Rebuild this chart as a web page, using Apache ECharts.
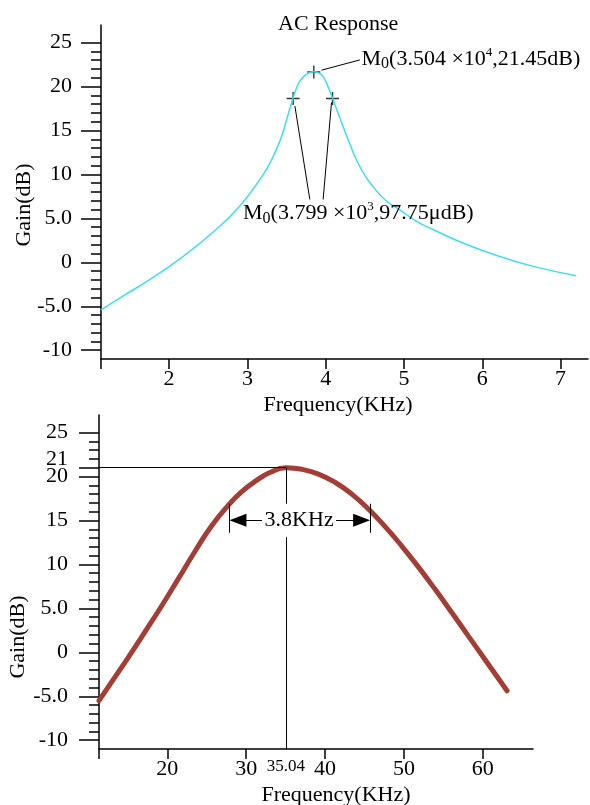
<!DOCTYPE html>
<html>
<head>
<meta charset="utf-8">
<script src="https://cdn.jsdelivr.net/npm/echarts@6/dist/echarts.min.js"></script>
<style>
html, body { margin: 0; padding: 0; background: #fff; }
#chart { width: 590px; height: 805px; }
</style>
</head>
<body>
<div id="chart"></div>
<script>
// AC response (top)
var acFreq = [1.13, 1.44, 1.75, 2.18, 2.6, 2.9, 3.16, 3.27, 3.37, 3.44, 3.5, 3.58, 3.63, 3.67, 3.75, 3.85, 3.92, 3.97, 4.04, 4.09, 4.15, 4.22, 4.3, 4.39, 4.5, 4.6, 4.77, 4.94, 5.15, 5.37, 5.8, 6.22, 6.65, 7.2];
var acGain = [-5.4, -3.68, -1.97, 0.68, 3.73, 6.39, 9.43, 11.0, 12.85, 14.4, 16.2, 18.6, 19.9, 20.6, 21.35, 21.67, 21.5, 21.1, 19.75, 18.6, 17.15, 15.5, 13.66, 11.7, 9.88, 8.67, 7.0, 6.0, 4.72, 3.73, 2.02, 0.68, -0.46, -1.52];
var acMarks = [[3.584, 18.63], [3.848, 21.66], [4.087, 18.63]];

// zoomed peak (bottom)
var bwFreq = [11.33, 13.2, 15.05, 17.2, 19.29, 21.4, 23.51, 25.6, 27.74, 29.4, 31.13, 33.0, 35.04, 37.1, 39.16, 41.3, 43.39, 45.5, 47.62, 49.7, 51.85, 54.0, 56.09, 58.2, 60.32, 63.08];
var bwGain = [-5.5, -3.03, -0.57, 2.38, 5.3, 8.38, 11.5, 14.38, 16.75, 18.25, 19.45, 20.45, 21.0, 20.82, 20.28, 19.32, 18.0, 16.31, 14.3, 12.12, 9.69, 7.11, 4.5, 1.82, -0.87, -4.38];
var peakFreq = 35.04, peakGain = 21;
var bandEdges = [27.87, 45.72];

// ticks
var gainMajor = [-10, -5, 0, 5, 10, 15, 20, 25];
var gainMajor2 = [-10, -5, 0, 5, 10, 15, 20, 21, 25];
var gainMinor = [-10, -9, -8, -7, -6, -5, -4, -3, -2, -1, 0, 1, 2, 3, 4, 5, 6, 7, 8, 9, 10, 11, 12, 13, 14, 15, 16, 17, 18, 19, 20, 21, 22, 23, 24, 25];
var acXTicks = [2, 3, 4, 5, 6, 7];
var bwXTicks = [20, 30, 40, 50, 60];

var FONT = 'Liberation Serif';
var FS = 22;
var black = '#000';

function gainFmt(v) {
    if (v === 5 || v === -5) return v.toFixed(1);
    if (v === 21) return '{up|21}';
    return String(v);
}

function xAxisCfg(grid, min, max, ticks, extraLabels) {
    return {
        type: 'value', gridIndex: grid, min: min, max: max,
        axisLine: { show: true, onZero: false, lineStyle: { color: black, width: 1.5 } },
        axisTick: { show: true, length: 10, lineStyle: { color: black, width: 1.5 }, customValues: [min].concat(ticks) },
        axisLabel: {
            customValues: ticks.concat(extraLabels || []), margin: 9, hideOverlap: false,
            color: black, fontFamily: FONT, fontSize: FS,
            formatter: function (v) { return v === peakFreq ? '{s|35.04}' : String(v); },
            rich: { s: { fontSize: 17, fontFamily: FONT, color: black, padding: [0, 0, 4, 0] } }
        },
        splitLine: { show: false }
    };
}

function yMajorCfg(grid, majors, margin) {
    return {
        type: 'value', gridIndex: grid, min: -11, max: 27, position: 'left',
        axisLine: { show: true, onZero: false, lineStyle: { color: black, width: 1.5 } },
        axisTick: { show: true, length: 20, lineStyle: { color: black, width: 1.5 }, customValues: majors },
        axisLabel: {
            customValues: majors, margin: margin, hideOverlap: false,
            color: black, fontFamily: FONT, fontSize: FS, formatter: gainFmt,
            rich: { up: { fontSize: FS, fontFamily: FONT, color: black, padding: [0, 0, 18, 0] } }
        },
        splitLine: { show: false }
    };
}

function yMinorCfg(grid) {
    return {
        type: 'value', gridIndex: grid, min: -11, max: 27, position: 'left',
        axisLine: { show: false },
        axisTick: { show: true, length: 10, lineStyle: { color: black, width: 1.5 }, customValues: gainMinor },
        axisLabel: { show: false },
        splitLine: { show: false }
    };
}

var thin = { color: black, width: 1, type: 'solid' };
function seg(a, b, endSym) {
    return [
        { coord: a, symbol: 'none', lineStyle: thin },
        { coord: b, symbol: endSym || 'none', symbolSize: [13, 17] }
    ];
}

var richM = {
    sub: { fontFamily: FONT, fontSize: 16, color: black, verticalAlign: 'bottom', padding: [10, 0, 0, 0] },
    sup: { fontFamily: FONT, fontSize: 13, color: black, verticalAlign: 'top', padding: [0, 0, 10, 0] },
    t: { fontFamily: FONT, fontSize: FS, color: black }
};

var myChart = echarts.init(document.getElementById('chart'));
var option = {
    animation: false,
    backgroundColor: '#fff',
    title: {
        text: 'AC Response', left: 273, top: 8,
        textStyle: { fontFamily: FONT, fontSize: FS, fontWeight: 'normal', color: black }
    },
    grid: [
        { left: 101, top: 25, width: 487, height: 334 },
        { left: 99, top: 415, width: 434, height: 334 }
    ],
    xAxis: [
        xAxisCfg(0, 1.13, 7.35, acXTicks),
        xAxisCfg(1, 11.33, 66.37, bwXTicks, [peakFreq])
    ],
    yAxis: [
        yMajorCfg(0, gainMajor, 29),
        yMinorCfg(0),
        yMajorCfg(1, gainMajor2, 31),
        yMinorCfg(1)
    ],
    graphic: [
        { type: 'text', x: 24, y: 205, rotation: Math.PI / 2,
          style: { text: 'Gain(dB)', fontFamily: FONT, fontSize: FS, fill: black, align: 'center', verticalAlign: 'middle' } },
        { type: 'text', x: 18, y: 637, rotation: Math.PI / 2,
          style: { text: 'Gain(dB)', fontFamily: FONT, fontSize: FS, fill: black, align: 'center', verticalAlign: 'middle' } },
        { type: 'text', x: 338, y: 405,
          style: { text: 'Frequency(KHz)', fontFamily: FONT, fontSize: FS, fill: black, align: 'center', verticalAlign: 'middle' } },
        { type: 'text', x: 336, y: 795,
          style: { text: 'Frequency(KHz)', fontFamily: FONT, fontSize: FS, fill: black, align: 'center', verticalAlign: 'middle' } }
    ],
    series: [
        {
            type: 'line', xAxisIndex: 0, yAxisIndex: 0,
            data: acFreq.map(function (f, i) { return [f, acGain[i]]; }),
            smooth: 0.5, showSymbol: false,
            lineStyle: { color: '#3fdcf2', width: 1.5 },
            markLine: {
                silent: true, symbol: ['none', 'none'], label: { show: false },
                lineStyle: thin,
                data: [
                    seg([3.947, 21.86], [4.436, 23.03]),
                    seg([3.606, 17.79], [3.797, 7.15]),
                    seg([4.074, 18.18], [3.967, 7.15])
                ]
            },
            markPoint: {
                silent: true, symbol: 'circle', symbolSize: 0,
                data: [
                    { coord: [4.445, 23.1],
                      label: { show: true, position: 'right', distance: 1,
                        formatter: 'M{sub|0}(3.504{t| ×}10{sup|4},21.45dB)' } },
                    { coord: [4.417, 5.55],
                      label: { show: true, position: 'inside',
                        formatter: 'M{sub|0}(3.799{t| ×}10{sup|3},97.75μdB)' } }
                ],
                label: { color: black, fontFamily: FONT, fontSize: FS, rich: richM }
            }
        },
        {
            type: 'scatter', xAxisIndex: 0, yAxisIndex: 0,
            data: acMarks,
            symbol: 'path://M0 6L12 6M6 0L6 12', symbolSize: 13,
            itemStyle: { color: 'transparent', borderColor: black, borderWidth: 1.4 }
        },
        {
            type: 'line', xAxisIndex: 1, yAxisIndex: 2,
            data: bwFreq.map(function (f, i) { return [f, bwGain[i]]; }),
            smooth: 0.5, showSymbol: false,
            lineStyle: { color: '#a13f37', width: 5, cap: 'round' },
            markLine: {
                silent: true, symbol: ['none', 'none'], label: { show: false },
                lineStyle: thin,
                data: [
                    seg([11.33, peakGain], [peakFreq, peakGain]),
                    seg([peakFreq, peakGain], [peakFreq, 16.9]),
                    seg([peakFreq, 13.1], [peakFreq, -11]),
                    seg([bandEdges[0], 16.9], [bandEdges[0], 13.6]),
                    seg([bandEdges[1], 16.9], [bandEdges[1], 13.6]),
                    seg([32.0, 15.02], [bandEdges[0] + 1.08, 15.02], 'triangle'),
                    seg([41.4, 15.02], [bandEdges[1] - 1.08, 15.02], 'triangle')
                ]
            },
            markPoint: {
                silent: true, symbol: 'circle', symbolSize: 0,
                data: [
                    { coord: [36.71, 15.02],
                      label: { show: true, position: 'inside', formatter: '3.8KHz',
                        color: black, fontFamily: FONT, fontSize: FS } }
                ]
            }
        }
    ]
};
myChart.setOption(option);
</script>
</body>
</html>
